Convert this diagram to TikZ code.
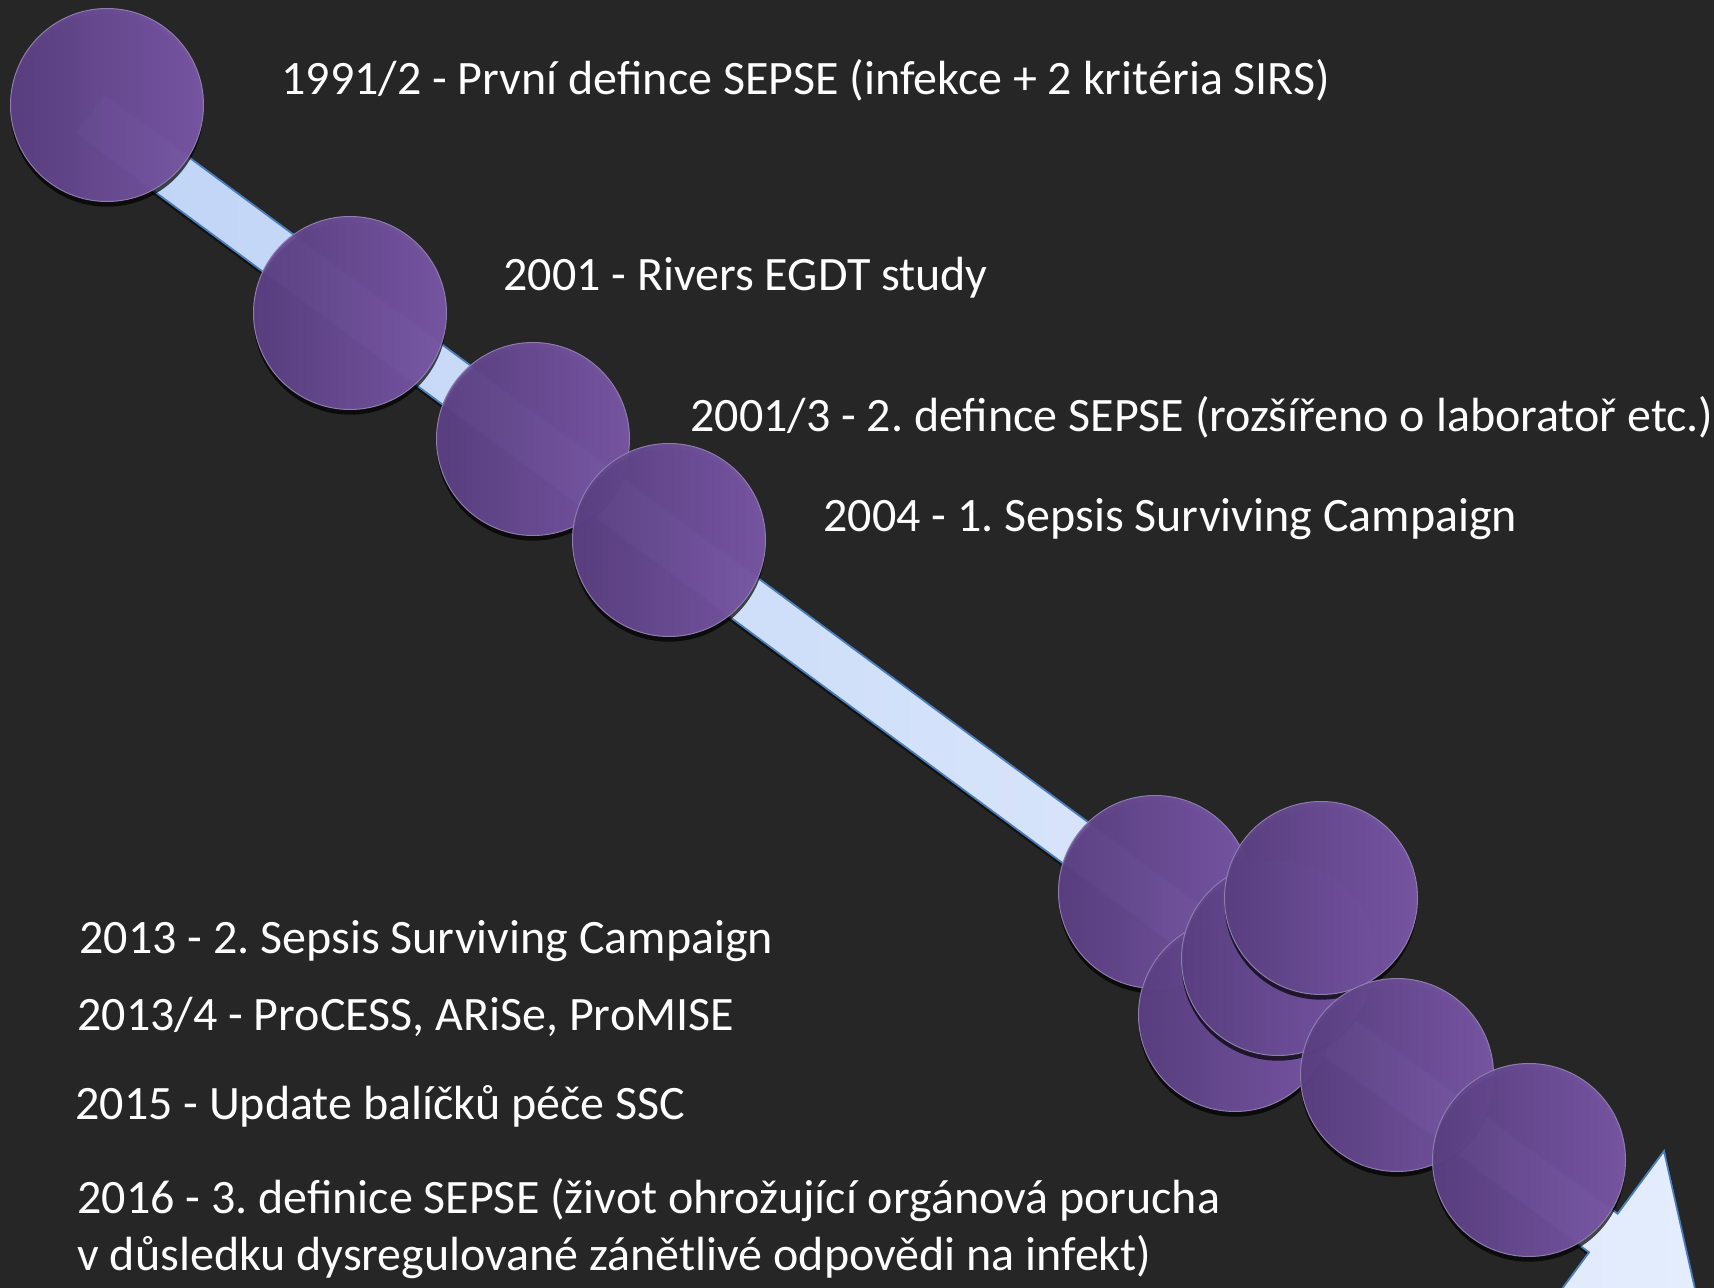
\documentclass[tikz,border=0pt]{standalone}
\usepackage{fontspec}
\setmainfont{Carlito}
\usetikzlibrary{shadows}
\frenchspacing
\definecolor{slidebg}{RGB}{38,38,38}
\definecolor{beadL}{RGB}{94,66,135}
\definecolor{beadR}{RGB}{125,90,172}
\definecolor{beadEdge}{RGB}{140,125,172}
\definecolor{shaftL}{RGB}{192,212,246}
\definecolor{shaftR}{RGB}{228,237,253}
\definecolor{shaftEdge}{RGB}{74,126,187}
\tikzset{
  bead/.style={circle, minimum size=96.5pt, inner sep=0pt,
    left color=beadL, right color=beadR, fill opacity=0.93,
    draw=beadEdge, line width=0.5pt,
    drop shadow={shadow xshift=0pt, shadow yshift=-2.6pt, opacity=0.7, fill=black}},
  event/.style={anchor=base west, text=white, inner sep=0pt,
    font=\fontsize{24}{29}\selectfont}
}
\begin{document}
\begin{tikzpicture}[x=0.5pt,y=-0.5pt]
\useasboundingbox (0,0) rectangle (1714,1288);
\clip (0,0) rectangle (1714,1288);
\fill[slidebg] (0,0) rectangle (1714,1288);

% timeline block arrow
\coordinate (tail) at (90,114);
\coordinate (tip) at (1698.2,1303.2);
\fill[black, opacity=0.55, shift={(3,6)}]
  (104.3,94.7) -- (1617.6,1213.7) -- (1664.0,1151.0) -- (tip)
  -- (1542.7,1315.0) -- (1589.0,1252.3) -- (75.7,133.3) -- cycle;
\path[left color=shaftL, right color=shaftR, draw=shaftEdge, line width=0.9pt, line join=miter]
  (104.3,94.7) -- (1617.6,1213.7) -- (1664.0,1151.0) -- (tip)
  -- (1542.7,1315.0) -- (1589.0,1252.3) -- (75.7,133.3) -- cycle;

% milestone beads
\node[bead] (b1) at (107,105) {};
\node[bead] (b2) at (350,313) {};
\node[bead] (b3) at (533,439) {};
\node[bead] (b4) at (669,540) {};
\node[bead] (b5) at (1155,892) {};
\node[bead] (b6) at (1235,1015) {};
\node[bead] (b7) at (1278,959) {};
\node[bead] (b8) at (1321,898) {};
\node[bead] (b9) at (1397,1075) {};
\node[bead] (b10) at (1529,1160) {};

% milestone labels
\node[event] (t1) at (281,95) {1991/2 - První defince SEPSE (infekce + 2 kritéria SIRS)};
\node[event] (t2) at (503,291) {2001 - Rivers EGDT study};
\node[event] (t3) at (690,432) {2001/3 - 2. defince SEPSE (rozšířeno o laboratoř etc.)};
\node[event] (t4) at (823,532) {2004 - 1. Sepsis Surviving Campaign};
\node[event] (t5) at (79,953) {2013 - 2. Sepsis Surviving Campaign};
\node[event] (t6) at (77,1030) {2013/4 - ProCESS, ARiSe, ProMISE};
\node[event] (t7) at (75,1119) {2015 - Update balíčků péče SSC};
\node[event] (t8) at (77,1213) {2016 - 3. definice SEPSE (život ohrožující orgánová porucha};
\node[event] (t9) at (77,1270) {v důsledku dysregulované zánětlivé odpovědi na infekt)};
\end{tikzpicture}
\end{document}
